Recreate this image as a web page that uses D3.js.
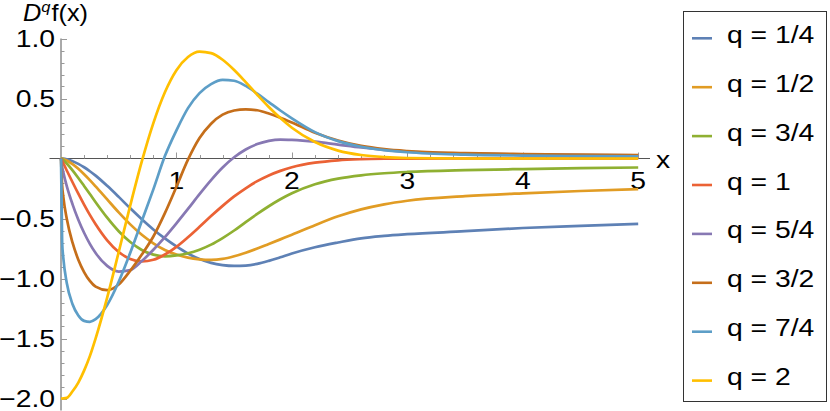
<!DOCTYPE html>
<html>
<head>
<meta charset="utf-8">
<script src="https://cdn.jsdelivr.net/npm/d3@7"></script>
<style>
  html, body { margin: 0; padding: 0; background: #fff; }
  svg text { font-family: "Liberation Sans", Arial, sans-serif; }
</style>
</head>
<body>
<svg id="chart"></svg>
<script>
// data
const xGrid = [0, 0.01, 0.02, 0.05, 0.1, 0.15, 0.2, 0.25, 0.3, 0.4, 0.5, 0.6, 0.7, 0.8, 0.9,
  1.0, 1.1, 1.2, 1.3, 1.4, 1.5, 1.6, 1.7, 1.8, 1.9, 2.0, 2.2, 2.4, 2.6, 2.8, 3.0, 3.5, 4.0, 4.5, 5.0];

const dq1_4 = [0, -0.0004, -0.0013, -0.0066, -0.022, -0.045, -0.073, -0.106, -0.143, -0.228, -0.320, -0.415, -0.506, -0.591, -0.666,
  -0.733, -0.792, -0.838, -0.870, -0.888, -0.895, -0.892, -0.878, -0.853, -0.823, -0.792, -0.740, -0.700, -0.665, -0.645, -0.631, -0.606, -0.579, -0.561, -0.545];
const dq1_2 = [0, -0.0015, -0.0043, -0.0168, -0.0475, -0.086, -0.131, -0.180, -0.2325, -0.341, -0.449, -0.549, -0.636, -0.707, -0.762,
  -0.800, -0.826, -0.840, -0.845, -0.837, -0.815, -0.785, -0.750, -0.712, -0.674, -0.636, -0.556, -0.482, -0.424, -0.382, -0.352, -0.314, -0.290, -0.271, -0.256];
const dq3_4 = [0, -0.0056, -0.0133, -0.0417, -0.0985, -0.162, -0.2285, -0.296, -0.364, -0.493, -0.606, -0.696, -0.762, -0.801, -0.815,
  -0.808, -0.790, -0.760, -0.718, -0.663, -0.600, -0.530, -0.462, -0.398, -0.340, -0.290, -0.215, -0.168, -0.140, -0.123, -0.112, -0.097, -0.088, -0.081, -0.075];
const dq1 = [0, -0.020, -0.040, -0.0999, -0.198, -0.293, -0.384, -0.470, -0.548, -0.682, -0.779, -0.837, -0.857, -0.844, -0.800,
  -0.736, -0.656, -0.569, -0.480, -0.395, -0.316, -0.248, -0.189, -0.141, -0.103, -0.073, -0.035, -0.015, -0.006, -0.002, -0.0007, 0, 0, 0, 0];
const dq5_4 = [0, -0.0688, -0.1157, -0.230, -0.382, -0.510, -0.619, -0.7115, -0.788, -0.895, -0.942, -0.930, -0.855, -0.760, -0.655,
  -0.540, -0.420, -0.297, -0.180, -0.075, 0.010, 0.075, 0.120, 0.147, 0.158, 0.155, 0.140, 0.116, 0.092, 0.072, 0.057, 0.040, 0.033, 0.029, 0.026];
const dq3_2 = [0, -0.2257, -0.319, -0.503, -0.702, -0.843, -0.946, -1.020, -1.068, -1.097, -1.050, -0.935, -0.800, -0.650, -0.455,
  -0.235, -0.010, 0.170, 0.290, 0.365, 0.400, 0.410, 0.402, 0.375, 0.340, 0.300, 0.215, 0.150, 0.105, 0.078, 0.062, 0.045, 0.037, 0.032, 0.028];
const dq7_4 = [0, -0.698, -0.829, -1.038, -1.214, -1.308, -1.353, -1.361, -1.339, -1.221, -1.027, -0.785, -0.521, -0.257, 0.020,
  0.235, 0.420, 0.545, 0.620, 0.655, 0.648, 0.605, 0.540, 0.470, 0.400, 0.335, 0.220, 0.145, 0.098, 0.070, 0.052, 0.032, 0.024, 0.020, 0.017];
const dq2 = [-2, -1.9998, -1.9992, -1.995, -1.940, -1.867, -1.768, -1.647, -1.499, -1.159, -0.779, -0.391, -0.0245, 0.295, 0.552,
  0.736, 0.846, 0.891, 0.878, 0.823, 0.738, 0.637, 0.531, 0.429, 0.3365, 0.256, 0.137, 0.066, 0.029, 0.0116, 0.0042, 0.0002, 0, 0, 0];

const qLabels = ['q = 1/4', 'q = 1/2', 'q = 3/4', 'q = 1', 'q = 5/4', 'q = 3/2', 'q = 7/4', 'q = 2'];
const colors = ['#5E81B5', '#E19C24', '#8FB032', '#EB6235', '#8778B3', '#C56E1A', '#5D9EC7', '#FFBF00'];
const series = [dq1_4, dq1_2, dq3_4, dq1, dq5_4, dq3_2, dq7_4, dq2];

const xTicks = [1, 2, 3, 4, 5];
const yTicks = [1.0, 0.5, -0.5, -1.0, -1.5, -2.0];

const width = 830, height = 411;
const fontSize = 24, stretch = 1.18;

const svg = d3.select('#chart')
    .attr('width', width)
    .attr('height', height);

const x = d3.scaleLinear().domain([0, 5]).range([61, 638.2]);
const y = d3.scaleLinear().domain([-2, 1]).range([398.5, 38.5]);

// text helper, glyphs are a bit wide in the original
const label = (g, px, py, str, anchor) =>
    g.append('text')
        .attr('transform', `translate(${px},${py}) scale(${stretch},1)`)
        .attr('text-anchor', anchor || 'start')
        .attr('font-size', fontSize)
        .attr('fill', '#000')
        .text(str);

// axes
const axisColor = '#555', tickColor = '#999';
const axes = svg.append('g');

axes.append('line')
    .attr('x1', 49.5).attr('x2', 650)
    .attr('y1', y(0)).attr('y2', y(0))
    .attr('stroke', axisColor);
axes.append('line')
    .attr('x1', x(0)).attr('x2', x(0))
    .attr('y1', y(1)).attr('y2', y(-2.1))
    .attr('stroke', axisColor);

// x minor/major ticks every 0.2
const xTickVals = d3.range(1, 26).map(i => i * 0.2);
axes.selectAll('.xt')
    .data(xTickVals)
    .join('line')
    .attr('x1', d => Math.round(x(d)) + 0.5).attr('x2', d => Math.round(x(d)) + 0.5)
    .attr('y1', y(0))
    .attr('y2', d => y(0) - (Math.abs(d - Math.round(d)) < 1e-6 ? 6 : 3.5))
    .attr('stroke', tickColor);

// y ticks every 0.1
const yTickVals = d3.range(-21, 11).map(i => i / 10).filter(d => Math.abs(d) > 1e-6);
axes.selectAll('.yt')
    .data(yTickVals)
    .join('line')
    .attr('x1', x(0))
    .attr('x2', d => x(0) + (Math.abs(d * 2 - Math.round(d * 2)) < 1e-6 ? 6 : 3.5))
    .attr('y1', d => Math.round(y(d)) + 0.5).attr('y2', d => Math.round(y(d)) + 0.5)
    .attr('stroke', tickColor);

xTicks.forEach(t => label(axes, x(t), 188.5, String(t), 'middle'));
yTicks.forEach(t => label(axes, 55, y(t) + 8.5, d3.format('.1f')(t).replace('-', '\u2212'), 'end'));

label(axes, 656, 168, 'x');

// y axis title D^q f(x)
const title = svg.append('text')
    .attr('transform', `translate(23,21) scale(1.1,1)`)
    .attr('font-size', 23);
title.append('tspan').attr('font-style', 'italic').text('D');
title.append('tspan').attr('font-style', 'italic').attr('font-size', 15).attr('dy', -9).text('q');
title.append('tspan').attr('dy', 9).attr('dx', 1).text('f(x)');

// curves
const line = d3.line()
    .x((d, i) => x(xGrid[i]))
    .y(d => y(d))
    .curve(d3.curveMonotoneX);

svg.append('g')
    .selectAll('path')
    .data(series)
    .join('path')
    .attr('d', d => line(d))
    .attr('fill', 'none')
    .attr('stroke', (d, i) => colors[i])
    .attr('stroke-width', 2.7)
    .attr('stroke-linejoin', 'round');

// legend
const legend = svg.append('g');
legend.append('rect')
    .attr('x', 683.5).attr('y', 11.5)
    .attr('width', 143).attr('height', 390)
    .attr('fill', '#fff')
    .attr('stroke', '#333');

qLabels.forEach((q, i) => {
    const base = 42.8 + 48.9 * i;
    legend.append('line')
        .attr('x1', 692).attr('x2', 712)
        .attr('y1', base - 4.5).attr('y2', base - 4.5)
        .attr('stroke', colors[i])
        .attr('stroke-width', 2.6);
    label(legend, 727, base, q);
});
</script>
</body>
</html>
